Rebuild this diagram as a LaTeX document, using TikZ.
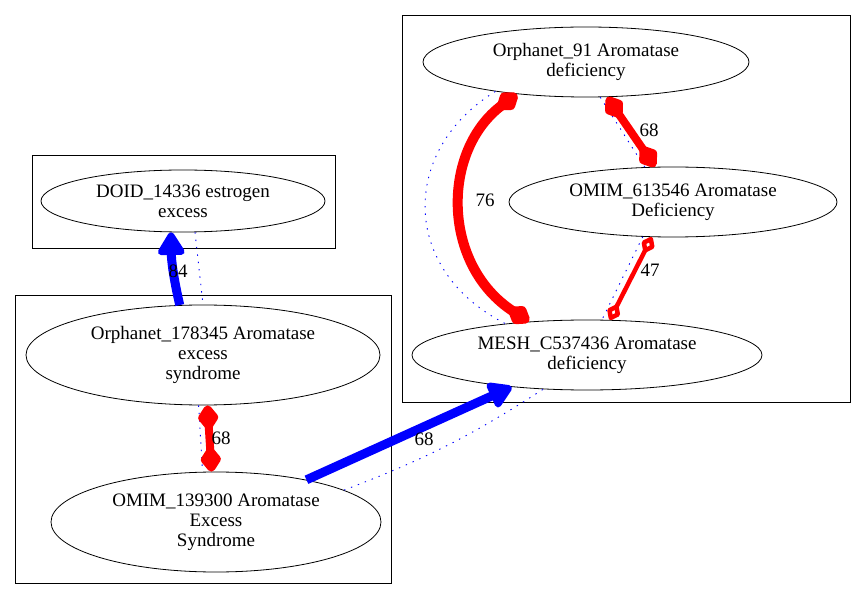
\documentclass[tikz,border=0pt]{standalone}
\usepackage{fontspec}
\setmainfont{Liberation Serif}
\usepackage{tikz}
\usetikzlibrary{arrows.meta, positioning, shapes.geometric, calc}

\begin{document}
\begin{tikzpicture}[
    x=1pt, y=-1pt,
    term/.style={ellipse, draw, line width=0.8pt, inner sep=0pt, align=center,
      font=\fontsize{19}{20}\selectfont},
    group/.style={draw, line width=0.8pt},
    strong/.style={draw=blue, line width=9pt,
      -{Triangle[length=26pt,width=30pt,round]}},
    same/.style={draw=red, line width=8pt,
      {Diamond[length=30pt,width=22pt,round]}-{Diamond[length=30pt,width=22pt,round]}},
    weak/.style={blue, line width=0.9pt, dash pattern=on 1.4pt off 6pt},
    lbl/.style={font=\fontsize{19}{20}\selectfont}
]
\useasboundingbox (0,0) rectangle (867,601);
% clusters
\draw[group] (32,155) rectangle (335,248);
\draw[group] (15,295) rectangle (391,583);
\draw[group] (402,15) rectangle (850,402);
% terms
\node[term, minimum width=284pt, minimum height=62pt] (doid) at (183,201) {DOID\_14336 estrogen\\excess};
\node[term, minimum width=354pt, minimum height=100pt] (orp178) at (203,355) {Orphanet\_178345 Aromatase\\excess\\syndrome};
\node[term, minimum width=330pt, minimum height=100pt] (omim139) at (216,522) {OMIM\_139300 Aromatase\\Excess\\Syndrome};
\node[term, minimum width=326pt, minimum height=70pt] (orp91) at (586,62) {Orphanet\_91 Aromatase\\deficiency};
\node[term, minimum width=328pt, minimum height=70pt] (omim613) at (673,202) {OMIM\_613546 Aromatase\\Deficiency};
\node[term, minimum width=350pt, minimum height=70pt] (mesh) at (587,355) {MESH\_C537436 Aromatase\\deficiency};
% dotted hints
\draw[weak] (doid.291) -- (orp178.90);
\draw[weak] (orp178.265) -- (omim139.105);
\draw[weak] (omim139.14) to[bend right=6] (mesh.218);
\draw[weak] (orp91.198) .. controls (400,150) and (400,270) .. (mesh.159);
\draw[weak] (orp91.292) -- (omim613.129);
\draw[weak] (omim613.229) -- (mesh.67);
% links
\draw[strong] (orp178.115) to[bend left=6] (doid.249);
\node[lbl] (w84) at (178,271) {84};
\draw[same] (orp178.275) -- (omim139.95);
\node[lbl] (w68a) at (221,438) {68};
\draw[strong] (omim139.25) -- (mesh.203);
\node[lbl] (w68b) at (424,439) {68};
\draw[same, line width=10pt] (orp91.205) .. controls (441,150) and (441,265) .. (mesh.150);
\node[lbl] (w76) at (485,200) {76};
\draw[same] (orp91.301) -- (omim613.117);
\node[lbl] (w68c) at (649,130) {68};
\draw[draw=red, line width=4.5pt, {Diamond[open,length=20pt,width=15pt,round]}-{Diamond[open,length=20pt,width=15pt,round]}]
  (omim613.239) -- (mesh.57);
\node[lbl] (w47) at (650,270) {47};
\end{tikzpicture}
\end{document}
